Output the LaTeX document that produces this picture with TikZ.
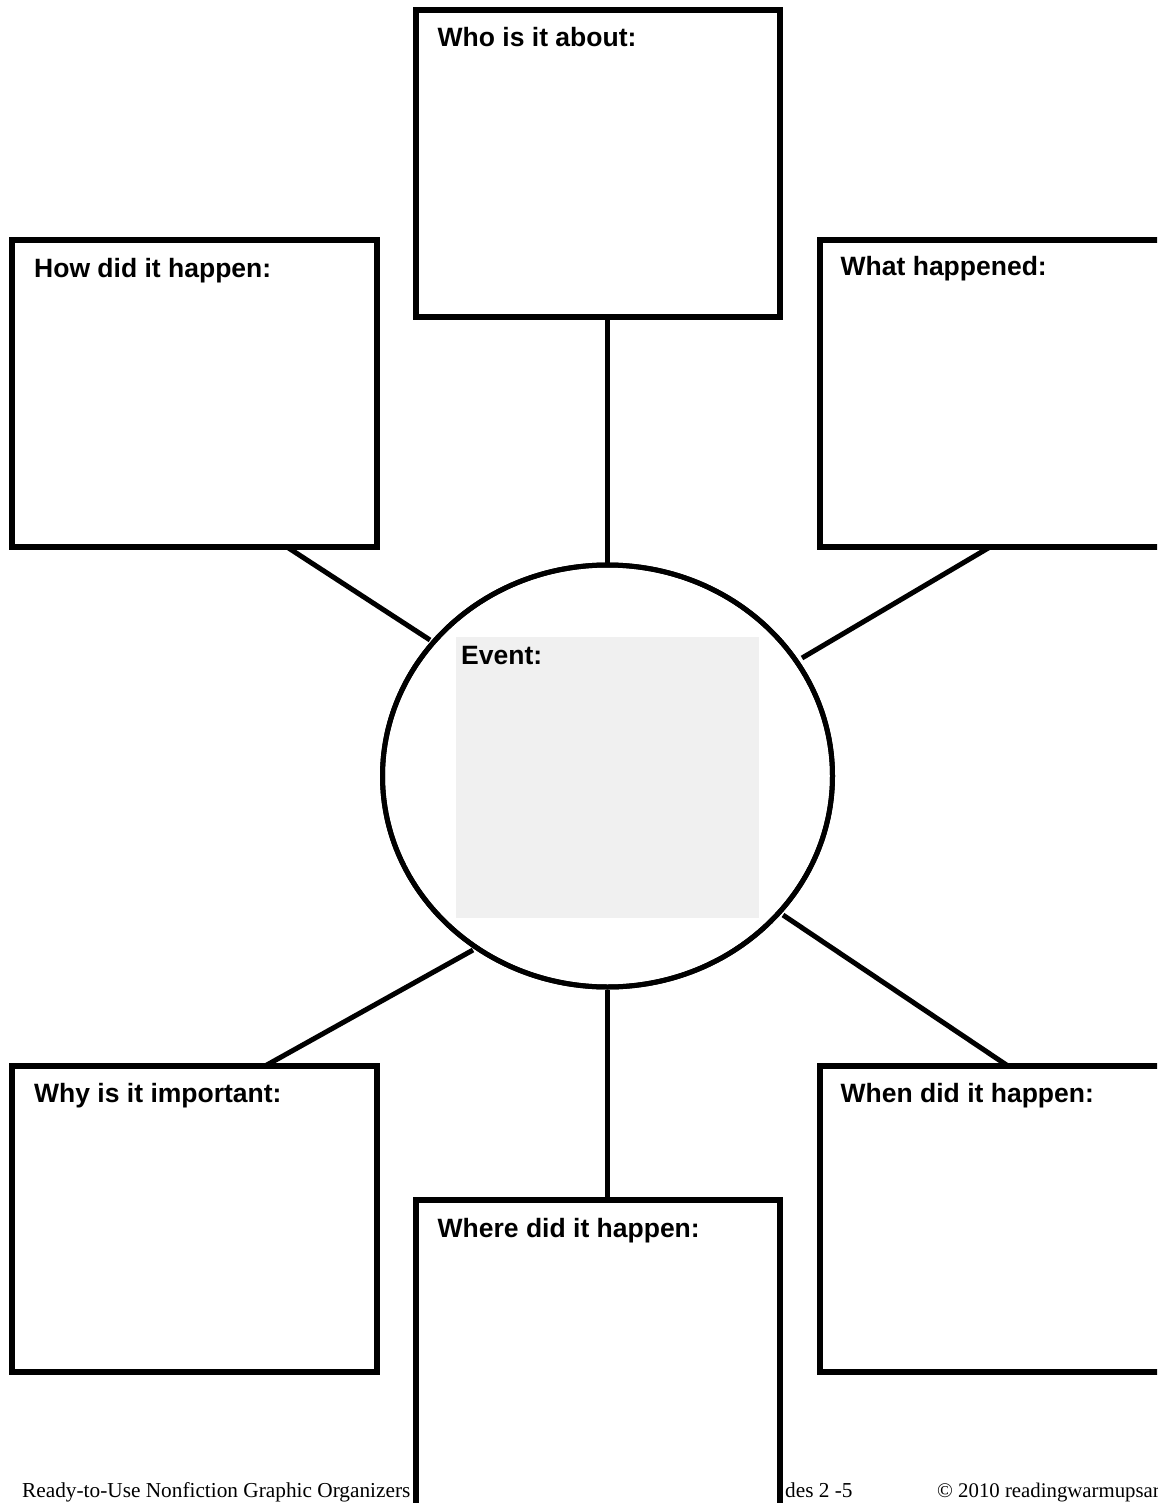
\documentclass[tikz,border=0pt]{standalone}
\usepackage{fontspec}
\setmainfont{Liberation Serif}
\newfontfamily\lsans{Liberation Sans}
\usetikzlibrary{shapes.geometric,calc}
\definecolor{eventgray}{HTML}{F0F0F0}
\tikzset{
  boxnode/.style={draw=black, line width=6pt, fill=white, rectangle, inner sep=0pt, minimum width=#1},
  boxnode/.default=364pt,
  lbl/.style={font=\lsans\bfseries\fontsize{26.5}{30}\selectfont, inner sep=0pt, anchor=base west},
  conn/.style={line width=5pt, black},
  foot/.style={font=\fontsize{21.3}{24}\selectfont, inner sep=0pt, anchor=base west}
}
\begin{document}
\begin{tikzpicture}[x=1pt,y=-1pt]
\clip (0,0) rectangle (1157,1503);
\fill[white] (0,0) rectangle (1157,1503);
% footer (partly hidden by the bottom box)
\node[foot] (f1) at (22,1497) {Ready-to-Use Nonfiction Graphic Organizers};
\node[foot] (f2) at (785,1497) {des 2 -5};
\node[foot, font=\fontsize{20.8}{24}\selectfont] (f3) at (937,1497) {\textcopyright{} 2010 readingwarmupsar};
% boxes
\node[boxnode=364pt, minimum height=307pt] (who) at (597.5,163.5) {};
\node[boxnode=365pt, minimum height=307pt] (how) at (194.5,393.5) {};
\node[boxnode=365pt, minimum height=307pt] (what) at (1002,393.5) {};
\node[boxnode=365pt, minimum height=306.5pt] (why) at (194.5,1218.75) {};
\node[boxnode=365pt, minimum height=306.5pt] (when) at (1002,1218.75) {};
\node[boxnode=364pt, minimum height=307pt] (where) at (597.5,1353.5) {};
% ellipse
\node[ellipse, draw=black, line width=5pt, fill=white, minimum width=450pt, minimum height=422pt, inner sep=0pt] (ev) at (607.5,776) {};
% connector end points
\coordinate (howE) at (287,547);
\coordinate (evUL) at (430,640);
\coordinate (whatE) at (990,547);
\coordinate (evUR) at (802,658);
\coordinate (whyE) at (265,1066);
\coordinate (evLL) at (473,950);
\coordinate (whenE) at (1008,1066);
\coordinate (evLR) at (783,915);
\draw[conn] (ev.north) -- (ev.north |- who.south);
\draw[conn] (ev.south) -- (ev.south |- where.north);
\draw[conn] (howE) -- (evUL);
\draw[conn] (whatE) -- (evUR);
\draw[conn] (whyE) -- (evLL);
\draw[conn] (whenE) -- (evLR);
% redraw ellipse border over connector ends
\node[ellipse, draw=black, line width=5pt, minimum width=450pt, minimum height=422pt, inner sep=0pt] (evb) at (ev.center) {};
% event area
\node[fill=eventgray, minimum width=303pt, minimum height=281pt, inner sep=0pt, anchor=north west] (evbox) at (456,637) {};
% labels
\node[lbl] (whot) at ([shift={(25,40)}]who.north west) {Who is it about:};
\node[lbl] (howt) at ([shift={(25,41)}]how.north west) {How did it happen:};
\node[lbl] (whatt) at ([shift={(24,39)}]what.north west) {What happened:};
\node[lbl] (whyt) at ([shift={(25,40)}]why.north west) {Why is it important:};
\node[lbl] (whent) at ([shift={(24,40)}]when.north west) {When did it happen:};
\node[lbl] (wheret) at ([shift={(25,40)}]where.north west) {Where did it happen:};
\node[lbl] (evt) at ([shift={(5,27)}]evbox.north west) {Event:};
\end{tikzpicture}
\end{document}
